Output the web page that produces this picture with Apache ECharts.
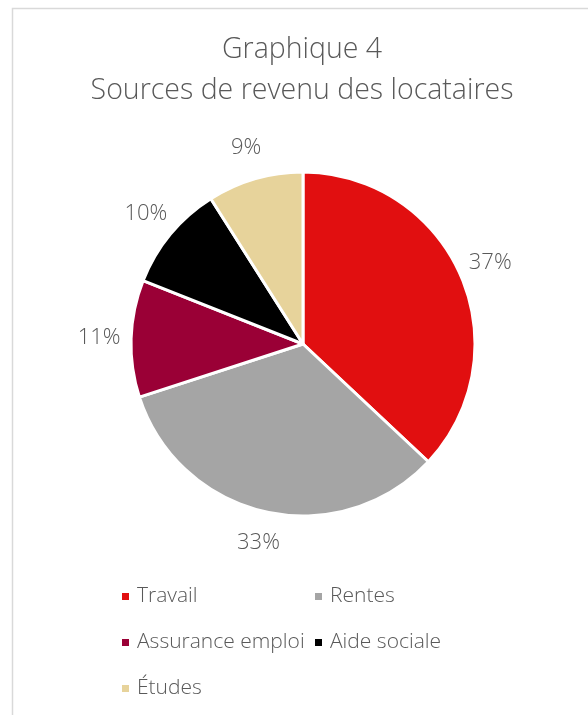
<!DOCTYPE html>
<html>
<head>
<meta charset="utf-8">
<script src="https://cdn.jsdelivr.net/npm/echarts@6/dist/echarts.min.js"></script>
<style>
  html, body { margin: 0; padding: 0; background: #fff; }
  #chart { width: 588px; height: 715px; }
</style>
</head>
<body>
<div id="chart"></div>
<script type="text/javascript">
  // données du graphique
  var categories = ['Travail', 'Rentes', 'Assurance emploi', 'Aide sociale', 'Études'];
  var values = [37, 33, 11, 10, 9];
  var colors = ['#e10f10', '#a5a5a5', '#9a0036', '#000000', '#e7d39b'];

  var pieData = categories.map(function (name, i) {
    return { name: name, value: values[i], itemStyle: { color: colors[i] } };
  });
  var labelData = categories.map(function (name, i) {
    return { name: name, value: values[i] };
  });

  var myChart = echarts.init(document.getElementById('chart'));
  var font = '"Open Sans", Lato, sans-serif';
  var legendText = { color: '#595959', fontSize: 21, fontWeight: 300, fontFamily: font, lineHeight: 20, padding: [0, 0, 0, 2] };

  var option = {
    animation: false,
    backgroundColor: '#fff',
    title: {
      text: 'Graphique 4\nSources de revenu des locataires',
      left: 297,
      textAlign: 'center',
      top: 24,
      textStyle: { color: '#595959', fontSize: 28.5, fontWeight: 300, fontFamily: font, lineHeight: 41 }
    },
    graphic: [
      {
        type: 'rect',
        shape: { x: 12.5, y: 8.5, width: 700, height: 800 },
        style: { fill: 'none', stroke: '#d9d9d9', lineWidth: 1.5 },
        silent: true
      }
    ],
    legend: [
      {
        data: [categories[0], categories[2], categories[4]],
        orient: 'vertical',
        left: 120,
        top: 586,
        icon: 'rect',
        itemWidth: 9,
        itemHeight: 9,
        itemGap: 25,
        padding: 0,
        selectedMode: false,
        textStyle: legendText
      },
      {
        data: [categories[1], categories[3]],
        orient: 'vertical',
        left: 313,
        top: 586,
        icon: 'rect',
        itemWidth: 9,
        itemHeight: 9,
        itemGap: 25,
        padding: 0,
        selectedMode: false,
        textStyle: legendText
      }
    ],
    series: [
      {
        name: 'Sources',
        type: 'pie',
        center: [303, 344],
        radius: [0, 172],
        startAngle: 90,
        clockwise: true,
        data: pieData,
        itemStyle: { borderColor: '#fff', borderWidth: 3 },
        label: { show: false },
        labelLine: { show: false },
        emphasis: { disabled: true }
      },
      {
        // série invisible qui sert uniquement à placer les étiquettes
        name: 'Étiquettes',
        type: 'pie',
        center: [303, 344],
        radius: [192, 210],
        startAngle: 90,
        clockwise: true,
        silent: true,
        data: labelData,
        itemStyle: { color: 'rgba(0,0,0,0)' },
        label: {
          show: true,
          position: 'inside',
          formatter: '{c}%',
          color: '#595959',
          fontSize: 22,
          fontWeight: 300,
          fontFamily: font
        },
        labelLine: { show: false },
        emphasis: { disabled: true }
      }
    ]
  };
  myChart.setOption(option);
</script>
</body>
</html>
